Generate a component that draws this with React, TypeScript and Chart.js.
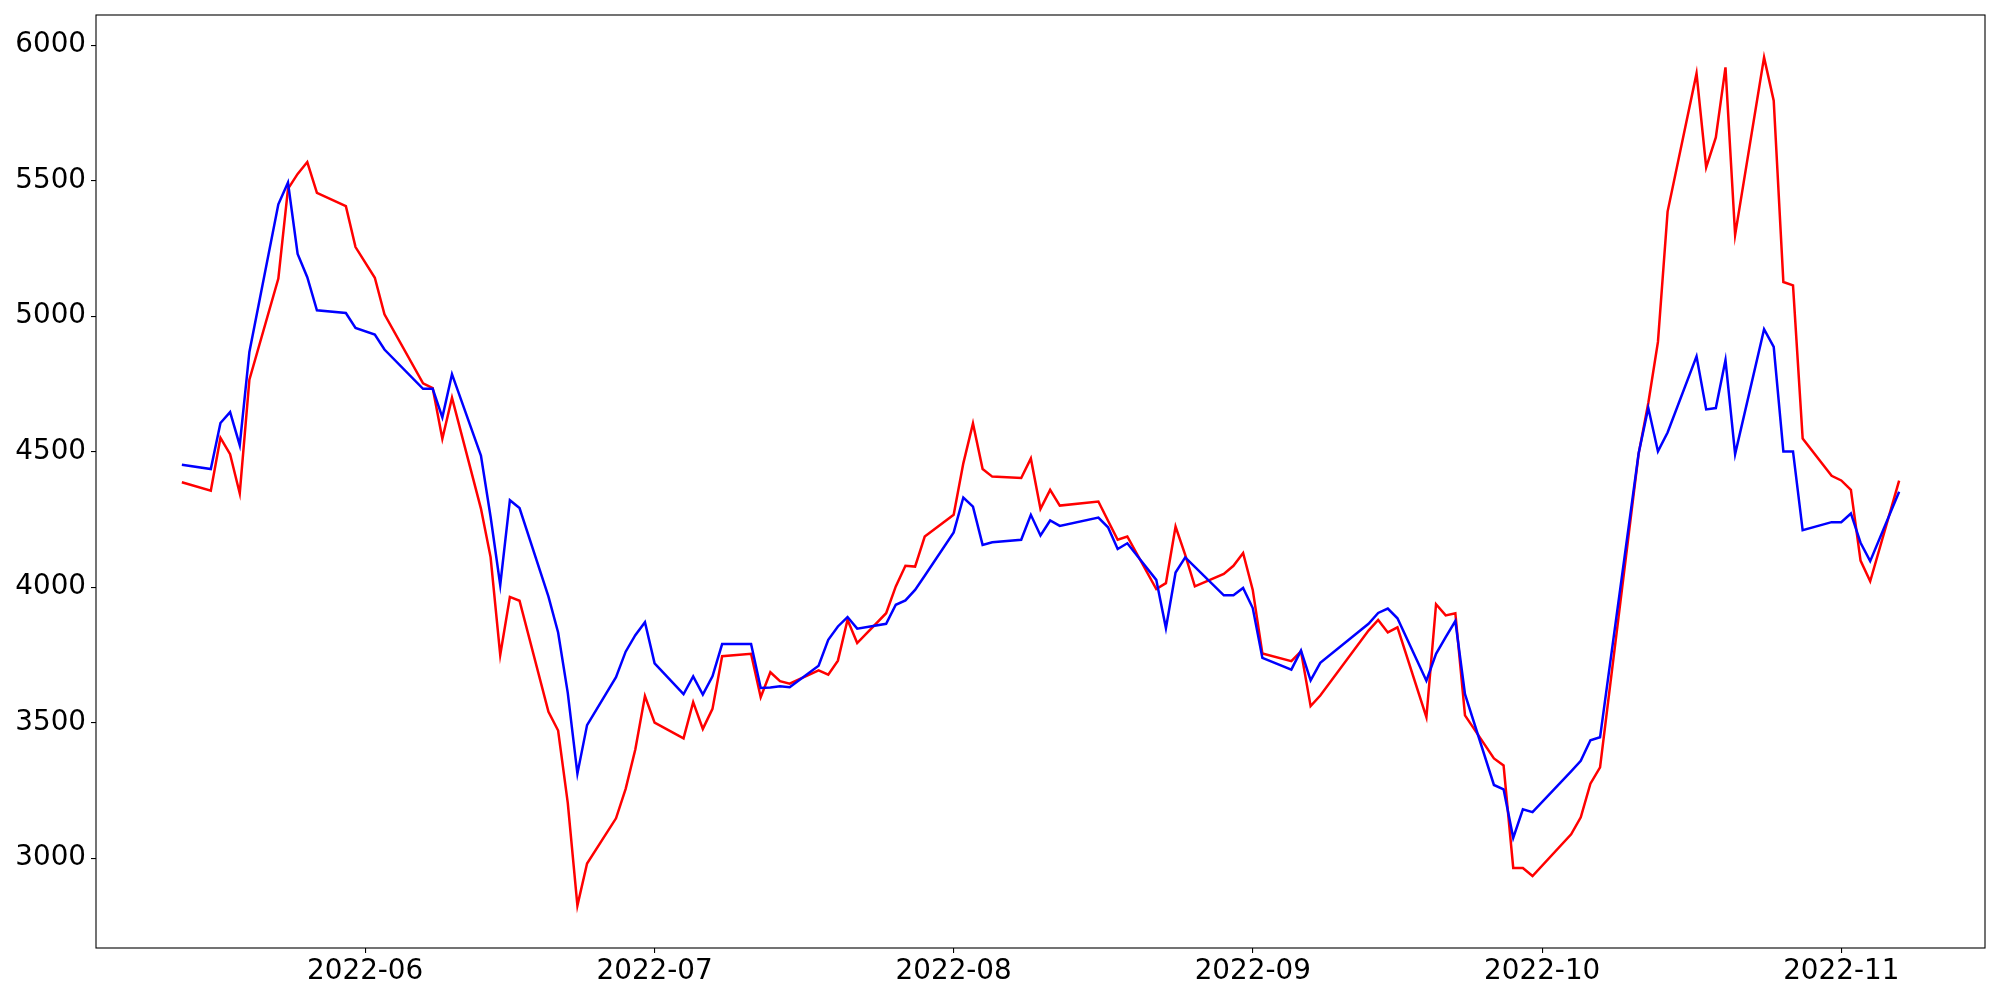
import React, { useEffect, useRef } from "react";
import { Chart, registerables } from "chart.js";

Chart.register(...registerables);

// Trading dates (KRX calendar)
const dates: string[] = [
  "2022-05-13", "2022-05-16", "2022-05-17", "2022-05-18", "2022-05-19", "2022-05-20",
  "2022-05-23", "2022-05-24", "2022-05-25", "2022-05-26", "2022-05-27", "2022-05-30",
  "2022-05-31", "2022-06-02", "2022-06-03", "2022-06-07", "2022-06-08", "2022-06-09",
  "2022-06-10", "2022-06-13", "2022-06-14", "2022-06-15", "2022-06-16", "2022-06-17",
  "2022-06-20", "2022-06-21", "2022-06-22", "2022-06-23", "2022-06-24", "2022-06-27",
  "2022-06-28", "2022-06-29", "2022-06-30", "2022-07-01", "2022-07-04", "2022-07-05",
  "2022-07-06", "2022-07-07", "2022-07-08", "2022-07-11", "2022-07-12", "2022-07-13",
  "2022-07-14", "2022-07-15", "2022-07-18", "2022-07-19", "2022-07-20", "2022-07-21",
  "2022-07-22", "2022-07-25", "2022-07-26", "2022-07-27", "2022-07-28", "2022-07-29",
  "2022-08-01", "2022-08-02", "2022-08-03", "2022-08-04", "2022-08-05", "2022-08-08",
  "2022-08-09", "2022-08-10", "2022-08-11", "2022-08-12", "2022-08-16", "2022-08-17",
  "2022-08-18", "2022-08-19", "2022-08-22", "2022-08-23", "2022-08-24", "2022-08-25",
  "2022-08-26", "2022-08-29", "2022-08-30", "2022-08-31", "2022-09-01", "2022-09-02",
  "2022-09-05", "2022-09-06", "2022-09-07", "2022-09-08", "2022-09-13", "2022-09-14",
  "2022-09-15", "2022-09-16", "2022-09-19", "2022-09-20", "2022-09-21", "2022-09-22",
  "2022-09-23", "2022-09-26", "2022-09-27", "2022-09-28", "2022-09-29", "2022-09-30",
  "2022-10-04", "2022-10-05", "2022-10-06", "2022-10-07", "2022-10-11", "2022-10-12",
  "2022-10-13", "2022-10-14", "2022-10-17", "2022-10-18", "2022-10-19", "2022-10-20",
  "2022-10-21", "2022-10-24", "2022-10-25", "2022-10-26", "2022-10-27", "2022-10-28",
  "2022-10-31", "2022-11-01", "2022-11-02", "2022-11-03", "2022-11-04", "2022-11-07",
];

const redValues: number[] = [
  4387, 4356, 4551, 4491, 4346, 4766,
  5139, 5470, 5525, 5569, 5455, 5406,
  5255, 5142, 5007, 4752, 4735, 4548,
  4699, 4290, 4111, 3750, 3964, 3950,
  3540, 3471, 3204, 2825, 2980, 3147,
  3256, 3401, 3598, 3500, 3442, 3576,
  3477, 3551, 3745, 3754, 3594, 3686,
  3653, 3644, 3693, 3677, 3729, 3880,
  3794, 3904, 4003, 4079, 4076, 4187,
  4267, 4457, 4604, 4436, 4408, 4403,
  4475, 4289, 4359, 4301, 4316, 4245,
  4175, 4187, 3993, 4015, 4224, 4119,
  4003, 4049, 4079, 4126, 3990, 3755,
  3727, 3763, 3561, 3600, 3840, 3879,
  3833, 3852, 3520, 3937, 3896, 3904,
  3527, 3368, 3342, 2964, 2964, 2934,
  3088, 3151, 3275, 3335, 4493, 4680,
  4905, 5386, 5896, 5549, 5660, 5918,
  5300, 5955, 5795, 5126, 5114, 4549,
  4411, 4394, 4359, 4098, 4022, 4393,
];

const blueValues: number[] = [
  4452, 4436, 4606, 4646, 4524, 4868,
  5413, 5493, 5230, 5144, 5022, 5012,
  4957, 4932, 4877, 4732, 4732, 4627,
  4786, 4486, 4260, 4008, 4321, 4292,
  3965, 3833, 3610, 3312, 3491, 3668,
  3762, 3823, 3871, 3719, 3605, 3671,
  3604, 3671, 3790, 3790, 3628, 3630,
  3634, 3631, 3710, 3806, 3855, 3890,
  3847, 3865, 3935, 3951, 3990, 4042,
  4202, 4331, 4297, 4156, 4166, 4175,
  4267, 4191, 4246, 4226, 4257, 4221,
  4141, 4162, 4027, 3849, 4054, 4110,
  4075, 3970, 3970, 3997, 3923, 3739,
  3696, 3766, 3656, 3721, 3865, 3905,
  3921, 3885, 3655, 3754, 3816, 3875,
  3605, 3270, 3254, 3075, 3180, 3170,
  3320, 3359, 3435, 3446, 4494, 4662,
  4501, 4571, 4852, 4656, 4661, 4838,
  4491, 4952, 4887, 4501, 4501, 4210,
  4240, 4240, 4272, 4164, 4096, 4352,
];

const monthTicks: string[] = [
  "2022-06-01", "2022-07-01", "2022-08-01", "2022-09-01", "2022-10-01", "2022-11-01",
];

const yTicks: number[] = [3000, 3500, 4000, 4500, 5000, 5500, 6000];

const dayNum = (s: string): number => {
  const [y, m, d] = s.split("-").map(Number);
  return Date.UTC(y, m - 1, d) / 86400000;
};

const fmtMonth = (v: number): string => {
  const dt = new Date(Math.round(v) * 86400000);
  return `${dt.getUTCFullYear()}-${String(dt.getUTCMonth() + 1).padStart(2, "0")}`;
};

const framePlugin = {
  id: "frame",
  afterDraw(chart: any) {
    const { ctx, chartArea: a } = chart;
    ctx.save();
    ctx.strokeStyle = "#000000";
    ctx.lineWidth = 1.1;
    ctx.strokeRect(a.left, a.top, a.right - a.left, a.bottom - a.top);
    ctx.restore();
  },
};

export default function App() {
  const canvasRef = useRef<HTMLCanvasElement | null>(null);

  useEffect(() => {
    if (!canvasRef.current) return;
    const xs = dates.map(dayNum);
    const xMinD = Math.min(...xs);
    const xMaxD = Math.max(...xs);
    const xSpan = xMaxD - xMinD;
    const all = [...redValues, ...blueValues];
    const yMinD = Math.min(...all);
    const yMaxD = Math.max(...all);
    const ySpan = yMaxD - yMinD;

    const font = { family: "'DejaVu Sans', sans-serif", size: 27.8, lineHeight: 1 };

    const chart = new Chart(canvasRef.current, {
      type: "line",
      data: {
        datasets: [
          {
            label: "red",
            data: xs.map((x, i) => ({ x, y: redValues[i] })),
            borderColor: "#ff0000",
            backgroundColor: "#ff0000",
            borderWidth: 2.5,
            pointRadius: 0,
            tension: 0,
            fill: false,
            order: 2,
          },
          {
            label: "blue",
            data: xs.map((x, i) => ({ x, y: blueValues[i] })),
            borderColor: "#0000ff",
            backgroundColor: "#0000ff",
            borderWidth: 2.5,
            pointRadius: 0,
            tension: 0,
            fill: false,
            order: 1,
          },
        ],
      },
      options: {
        animation: false,
        responsive: false,
        devicePixelRatio: 1,
        layout: { padding: { top: 15, right: 15, left: 0, bottom: 0 } },
        plugins: {
          legend: { display: false },
          tooltip: { enabled: false },
        },
        scales: {
          x: {
            type: "linear",
            min: xMinD - 0.05 * xSpan,
            max: xMaxD + 0.05 * xSpan,
            afterBuildTicks: (s: any) => {
              s.ticks = monthTicks.map((m) => ({ value: dayNum(m) }));
            },
            afterFit: (s: any) => {
              s.height = 52;
              s.paddingLeft = 0;
              s.paddingRight = 0;
            },
            ticks: {
              callback: (v: any) => fmtMonth(Number(v)),
              font,
              color: "#000000",
              maxRotation: 0,
              minRotation: 0,
              autoSkip: false,
              padding: 5,
            },
            grid: {
              drawOnChartArea: false,
              drawTicks: true,
              tickLength: 5,
              color: "#000000",
              lineWidth: 1.1,
            },
            border: { display: false },
          },
          y: {
            type: "linear",
            min: yMinD - 0.05 * ySpan,
            max: yMaxD + 0.05 * ySpan,
            afterBuildTicks: (s: any) => {
              s.ticks = yTicks.map((v) => ({ value: v }));
            },
            afterFit: (s: any) => {
              s.width = 96;
              s.paddingTop = 0;
              s.paddingBottom = 0;
            },
            ticks: {
              callback: (v: any) => String(v),
              font,
              color: "#000000",
              autoSkip: false,
              padding: 5,
            },
            grid: {
              drawOnChartArea: false,
              drawTicks: true,
              tickLength: 5,
              color: "#000000",
              lineWidth: 1.1,
            },
            border: { display: false },
          },
        },
      },
      plugins: [framePlugin],
    } as any);

    return () => {
      chart.destroy();
    };
  }, []);

  return (
    <div style={{ position: "absolute", left: 0, top: 0, width: 2000, height: 1000, background: "#ffffff" }}>
      <canvas ref={canvasRef} width={2000} height={1000} />
    </div>
  );
}
